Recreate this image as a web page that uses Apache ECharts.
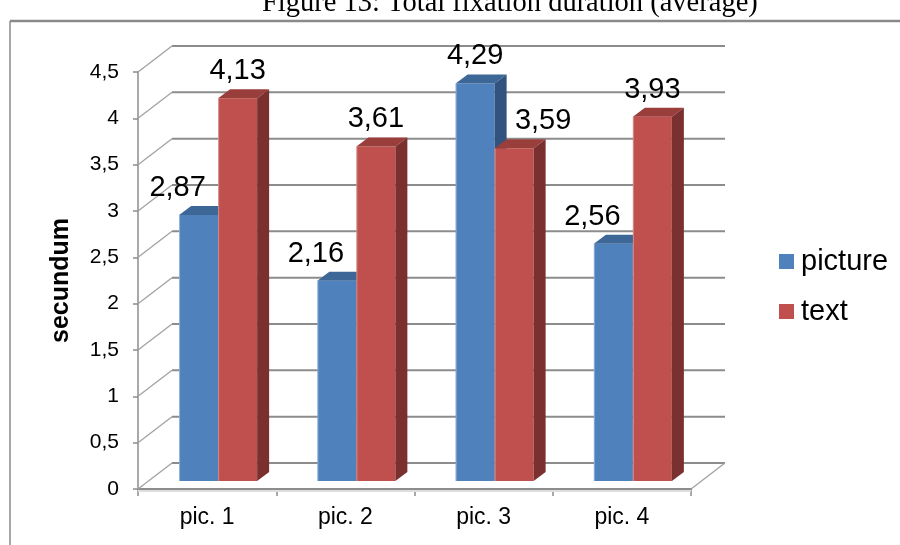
<!DOCTYPE html>
<html>
<head>
<meta charset="utf-8">
<script src="https://cdn.jsdelivr.net/npm/echarts@6/dist/echarts.min.js"></script>
<style>
  html, body { margin: 0; padding: 0; background: #ffffff; }
  #chart { width: 900px; height: 545px; }
</style>
</head>
<body>
<div id="chart"></div>
<script>
// ---- data ----
const categories = ['pic. 1', 'pic. 2', 'pic. 3', 'pic. 4'];
const pictureValues = [2.87, 2.16, 4.29, 2.56];
const textValues = [4.13, 3.61, 3.59, 3.93];
const seriesNames = ['picture', 'text'];
const yTicks = [0, 0.5, 1, 1.5, 2, 2.5, 3, 3.5, 4, 4.5];
const titleText = 'Figure 13: Total fixation duration (average)';
const yAxisTitle = 'secundum';

// ---- pseudo-3D geometry (pixel offsets of the depth planes) ----
const WALL = [34, -26];        // back wall relative to the front axis plane
const BAR_FRONT = [11, -8];    // front face of the bars relative to the axis plane
const BAR_DEPTH = [12, -9];    // thickness of each bar
const BAR_RATIO = 39 / 138.25; // single bar width as share of a category band

const SANS = '"Liberation Sans", Arial, sans-serif';

const faces = [
  { front: '#4f81bd', top: '#3c6797', side: '#31537d' },
  { front: '#c0504d', top: '#9a3e3b', side: '#7a302e' }
];

const fmt = v => v.toFixed(2).replace('.', ',');

function barRenderer(seriesIdx, values, otherValues) {
  const c = faces[seriesIdx];
  return function (params, api) {
    const i = api.value(0);
    const v = api.value(1);
    const base = api.coord([i, 0]);
    const top = api.coord([i, v]);
    const band = api.size([1, 0])[0];
    const w = band * BAR_RATIO;
    const x0 = base[0] - (seriesIdx === 0 ? w : 0) + BAR_FRONT[0];
    const x1 = x0 + w;
    const yb = base[1] + BAR_FRONT[1];
    const yt = top[1] + BAR_FRONT[1];
    const dx = BAR_DEPTH[0], dy = BAR_DEPTH[1];
    // the shorter bar of a pair moves its label outward, clear of the taller one
    let shift = 0;
    if (v < otherValues[i]) shift = seriesIdx === 0 ? -21 : 29;
    return {
      type: 'group',
      children: [
        { type: 'rect', shape: { x: x0, y: yt, width: w, height: yb - yt },
          style: { fill: c.front } },
        { type: 'line', shape: { x1: x0 + 0.5, y1: yt, x2: x0 + 0.5, y2: yb },
          style: { stroke: 'rgba(255,255,255,0.35)', lineWidth: 1 } },
        { type: 'polygon', shape: { points: [[x0, yt], [x1, yt], [x1 + dx, yt + dy], [x0 + dx, yt + dy]] },
          style: { fill: c.top } },
        { type: 'polygon', shape: { points: [[x1, yt], [x1 + dx, yt + dy], [x1 + dx, yb + dy], [x1, yb]] },
          style: { fill: c.side } },
        { type: 'text', z2: 10,
          style: { text: fmt(v), x: (x0 + x1) / 2 + shift, y: yt - 27,
                   align: 'center', verticalAlign: 'middle',
                   font: '29px ' + SANS, fill: '#000' } }
      ]
    };
  };
}

function wallRenderer(params, api) {
  const cs = params.coordSys;
  const t = api.value(1);
  const y = api.coord([0, t])[1];
  const xl = cs.x, xr = cs.x + cs.width;
  const kids = [
    { type: 'line', shape: { x1: xl + WALL[0], y1: y + WALL[1], x2: xr + WALL[0], y2: y + WALL[1] },
      style: { stroke: '#8c8c8c', lineWidth: 2 } },
    { type: 'line', shape: { x1: xl, y1: y, x2: xl + WALL[0], y2: y + WALL[1] },
      style: { stroke: '#a2a2a2', lineWidth: 1.3 } }
  ];
  if (t === 0) {
    kids.push({ type: 'line', shape: { x1: xr, y1: y, x2: xr + WALL[0], y2: y + WALL[1] },
      style: { stroke: '#a2a2a2', lineWidth: 1.3 } });
    kids.push({ type: 'line', shape: { x1: xl, y1: y + 2, x2: xr, y2: y + 2 },
      style: { stroke: '#dedede', lineWidth: 2 } });
  }
  return { type: 'group', children: kids };
}

const chart = echarts.init(document.getElementById('chart'));
chart.setOption({
  animation: false,
  backgroundColor: '#ffffff',
  grid: { left: 138, right: 209, top: 72, bottom: 56, containLabel: false },
  legend: {
    data: seriesNames,
    orient: 'vertical',
    left: 774, top: 242,
    icon: 'rect', itemWidth: 15, itemHeight: 15, itemGap: 21,
    textStyle: { fontSize: 29, fontFamily: SANS, color: '#000', padding: [0, 0, 0, 2] }
  },
  xAxis: {
    type: 'category',
    data: categories,
    boundaryGap: true,
    axisLine: { show: true, lineStyle: { color: '#8c8c8c', width: 2 } },
    axisTick: { show: true, length: 7, lineStyle: { color: '#8c8c8c', width: 1.5 } },
    axisLabel: { fontSize: 23, color: '#000', margin: 17, fontFamily: SANS },
    splitLine: { show: false }
  },
  yAxis: {
    type: 'value', min: 0, max: 4.5, interval: 0.5,
    name: yAxisTitle, nameLocation: 'middle', nameRotate: 90, nameGap: 64,
    nameTextStyle: { fontSize: 25, fontWeight: 'bold', color: '#000', fontFamily: SANS },
    axisLine: { show: true, lineStyle: { color: '#8c8c8c', width: 1.5 } },
    axisTick: { show: true, length: 5, lineStyle: { color: '#8c8c8c', width: 1.5 } },
    axisLabel: { fontSize: 21, color: '#000', margin: 19, fontFamily: SANS,
                 formatter: v => String(v).replace('.', ',') },
    splitLine: { show: false }
  },
  graphic: [
    { type: 'text', left: 262, top: -11, silent: true,
      style: { text: titleText, font: '28.5px "Liberation Serif", "Times New Roman", serif', fill: '#000' } },
    { type: 'line', silent: true, shape: { x1: 10, y1: 21, x2: 900, y2: 21 },
      style: { stroke: '#8a8a8a', lineWidth: 2.5 } },
    { type: 'line', silent: true, shape: { x1: 10, y1: 21, x2: 10, y2: 545 },
      style: { stroke: '#8a8a8a', lineWidth: 1.5 } }
  ],
  series: [
    { type: 'custom', name: 'wall', silent: true, z: 1,
      data: yTicks.map(t => [0, t]), encode: { x: 0, y: 1 },
      renderItem: wallRenderer },
    { type: 'custom', name: seriesNames[0], z: 2,
      itemStyle: { color: faces[0].front },
      data: pictureValues.map((v, i) => [i, v]), encode: { x: 0, y: 1 },
      renderItem: barRenderer(0, pictureValues, textValues) },
    { type: 'custom', name: seriesNames[1], z: 3,
      itemStyle: { color: faces[1].front },
      data: textValues.map((v, i) => [i, v]), encode: { x: 0, y: 1 },
      renderItem: barRenderer(1, textValues, pictureValues) }
  ]
});
</script>
</body>
</html>
